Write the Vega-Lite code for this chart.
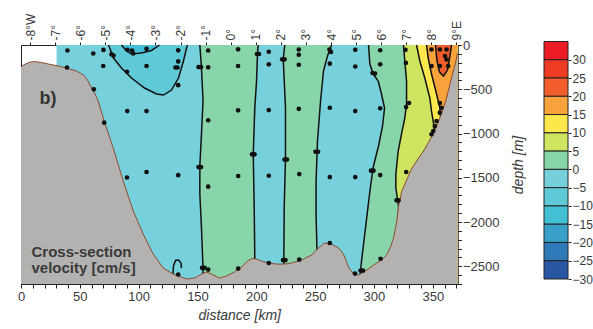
{
"$schema": "https://vega.github.io/schema/vega-lite/v6.json",
"background": "white",
"padding": {"left": 16, "top": 12, "right": 0, "bottom": 0},
"spacing": 86,
"bounds": "flush",
"config": {"font": "Liberation Sans", "view": {"stroke": "#222", "strokeWidth": 1},
  "axis": {"domainColor": "#222", "tickColor": "#222", "labelColor": "#3a3a3a", "titleColor": "#3a3a3a", "grid": false, "labelFontSize": 13, "titleFontSize": 14, "titleFontWeight": "normal", "labelOverlap": false, "labelFlush": false}},
"datasets": {
"cont": [
{"c":"cL","i":0,"d":30.2,"z":0},{"c":"cL","i":1,"d":30.2,"z":-2700},
{"c":"c0","i":0,"d":152.0,"z":0},{"c":"c0","i":1,"d":153.4,"z":-260},{"c":"c0","i":2,"d":154.7,"z":-633},{"c":"c0","i":3,"d":153.4,"z":-1006},{"c":"c0","i":4,"d":152.0,"z":-1367},{"c":"c0","i":5,"d":152.0,"z":-1684},{"c":"c0","i":6,"d":153.4,"z":-2068},{"c":"c0","i":7,"d":154.7,"z":-2520},{"c":"c0","i":8,"d":154.7,"z":-2700},
{"c":"c1","i":0,"d":201.6,"z":0},{"c":"c1","i":1,"d":201.0,"z":-102},{"c":"c1","i":2,"d":200.2,"z":-407},{"c":"c1","i":3,"d":198.7,"z":-712},{"c":"c1","i":4,"d":197.4,"z":-1232},{"c":"c1","i":5,"d":198.2,"z":-1842},{"c":"c1","i":6,"d":198.7,"z":-2407},{"c":"c1","i":7,"d":198.7,"z":-2700},
{"c":"c2","i":0,"d":224.2,"z":0},{"c":"c2","i":1,"d":222.9,"z":-158},{"c":"c2","i":2,"d":224.8,"z":-712},{"c":"c2","i":3,"d":224.8,"z":-1288},{"c":"c2","i":4,"d":223.7,"z":-1842},{"c":"c2","i":5,"d":223.4,"z":-2418},{"c":"c2","i":6,"d":223.4,"z":-2700},
{"c":"c3","i":0,"d":263.9,"z":0},{"c":"c3","i":1,"d":260.5,"z":-124},{"c":"c3","i":2,"d":257.1,"z":-294},{"c":"c3","i":3,"d":254.6,"z":-633},{"c":"c3","i":4,"d":252.0,"z":-1085},{"c":"c3","i":5,"d":250.8,"z":-1537},{"c":"c3","i":6,"d":250.8,"z":-1932},{"c":"c3","i":7,"d":251.6,"z":-2328},{"c":"c3","i":8,"d":251.6,"z":-2700},
{"c":"c4","i":0,"d":295.4,"z":0},{"c":"c4","i":1,"d":296.5,"z":-215},{"c":"c4","i":2,"d":299.4,"z":-328},{"c":"c4","i":3,"d":303.6,"z":-407},{"c":"c4","i":4,"d":306.4,"z":-554},{"c":"c4","i":5,"d":309.0,"z":-712},{"c":"c4","i":6,"d":307.3,"z":-915},{"c":"c4","i":7,"d":303.9,"z":-1141},{"c":"c4","i":8,"d":299.6,"z":-1367},{"c":"c4","i":9,"d":297.1,"z":-1593},{"c":"c4","i":10,"d":294.5,"z":-1876},{"c":"c4","i":11,"d":292.0,"z":-2158},{"c":"c4","i":12,"d":289.4,"z":-2441},{"c":"c4","i":13,"d":288.2,"z":-2610},{"c":"c4","i":14,"d":288.2,"z":-2700},
{"c":"c5","i":0,"d":325.1,"z":0},{"c":"c5","i":1,"d":326.2,"z":-181},{"c":"c5","i":2,"d":327.7,"z":-407},{"c":"c5","i":3,"d":327.7,"z":-667},{"c":"c5","i":4,"d":326.2,"z":-825},{"c":"c5","i":5,"d":323.4,"z":-1006},{"c":"c5","i":6,"d":320.6,"z":-1198},{"c":"c5","i":7,"d":318.6,"z":-1458},{"c":"c5","i":8,"d":318.6,"z":-1616},{"c":"c5","i":9,"d":320.9,"z":-1819},{"c":"c5","i":10,"d":320.9,"z":-2700},
{"c":"c6","i":0,"d":336.2,"z":0},{"c":"c6","i":1,"d":339.0,"z":-181},{"c":"c6","i":2,"d":343.2,"z":-373},{"c":"c6","i":3,"d":347.5,"z":-599},{"c":"c6","i":4,"d":348.9,"z":-746},{"c":"c6","i":5,"d":350.6,"z":-881},{"c":"c6","i":6,"d":351.5,"z":-972},{"c":"c6","i":7,"d":351.5,"z":-2700},
{"c":"c7","i":0,"d":344.7,"z":0},{"c":"c7","i":1,"d":346.1,"z":-147},{"c":"c7","i":2,"d":348.9,"z":-328},{"c":"c7","i":3,"d":353.2,"z":-554},{"c":"c7","i":4,"d":356.0,"z":-712},{"c":"c7","i":5,"d":356.6,"z":-814},{"c":"c7","i":6,"d":356.6,"z":-2700},
{"c":"c8","i":0,"d":352.3,"z":0},{"c":"c8","i":1,"d":353.6,"z":-181},{"c":"c8","i":2,"d":355.7,"z":-305},{"c":"c8","i":3,"d":359.1,"z":-350},{"c":"c8","i":4,"d":362.5,"z":-283},{"c":"c8","i":5,"d":364.6,"z":-124},{"c":"c8","i":6,"d":365.9,"z":0},
{"c":"c9","i":0,"d":74.4,"z":0},{"c":"c9","i":1,"d":78.6,"z":-147},{"c":"c9","i":2,"d":85.4,"z":-260},{"c":"c9","i":3,"d":93.9,"z":-373},{"c":"c9","i":4,"d":105.0,"z":-486},{"c":"c9","i":5,"d":115.2,"z":-554},{"c":"c9","i":6,"d":121.1,"z":-565},{"c":"c9","i":7,"d":127.9,"z":-509},{"c":"c9","i":8,"d":133.9,"z":-373},{"c":"c9","i":9,"d":138.1,"z":-181},{"c":"c9","i":10,"d":140.7,"z":-34},{"c":"c9","i":11,"d":141.5,"z":0},
{"c":"c10","i":0,"d":85.4,"z":0},{"c":"c10","i":1,"d":89.7,"z":-68},{"c":"c10","i":2,"d":93.9,"z":-102},{"c":"c10","i":3,"d":102.4,"z":-90},{"c":"c10","i":4,"d":110.9,"z":-62},{"c":"c10","i":5,"d":117.7,"z":0},
{"c":"c11","i":0,"d":129.2,"z":-2588},{"c":"c11","i":1,"d":129.6,"z":-2497},{"c":"c11","i":2,"d":131.3,"z":-2435},{"c":"c11","i":3,"d":133.9,"z":-2430},{"c":"c11","i":4,"d":136.0,"z":-2463},{"c":"c11","i":5,"d":136.4,"z":-2520}
],
"bathy": [
{"d":0,"z":-249},{"d":2.1,"z":-226},{"d":6.4,"z":-198},{"d":10.6,"z":-186},{"d":17.4,"z":-198},{"d":24.2,"z":-218},{"d":31.9,"z":-237},{"d":38.7,"z":-263},{"d":47.2,"z":-294},{"d":53.1,"z":-339},{"d":56.5,"z":-396},{"d":59.1,"z":-463},{"d":62.5,"z":-542},{"d":65.6,"z":-633},{"d":71.2,"z":-881},{"d":78.4,"z":-1164},{"d":86.9,"z":-1537},{"d":95.4,"z":-1876},{"d":103.9,"z":-2136},{"d":112.4,"z":-2362},{"d":120.9,"z":-2520},{"d":129.4,"z":-2588},{"d":140.7,"z":-2644},{"d":147.5,"z":-2633},{"d":153.4,"z":-2588},{"d":157.7,"z":-2565},{"d":161.9,"z":-2588},{"d":168.7,"z":-2633},{"d":174.7,"z":-2610},{"d":181.5,"z":-2565},{"d":187.4,"z":-2509},{"d":192.5,"z":-2441},{"d":195.9,"z":-2413},{"d":200.2,"z":-2418},{"d":204.4,"z":-2441},{"d":210.4,"z":-2463},{"d":217.2,"z":-2475},{"d":224.0,"z":-2475},{"d":229.9,"z":-2463},{"d":235.9,"z":-2441},{"d":241.0,"z":-2413},{"d":246.9,"z":-2373},{"d":252.9,"z":-2294},{"d":258.0,"z":-2237},{"d":263.9,"z":-2249},{"d":269.9,"z":-2294},{"d":274.1,"z":-2362},{"d":278.4,"z":-2509},{"d":282.6,"z":-2588},{"d":286.9,"z":-2599},{"d":291.1,"z":-2565},{"d":296.2,"z":-2520},{"d":302.2,"z":-2463},{"d":306.4,"z":-2430},{"d":310.7,"z":-2373},{"d":314.1,"z":-2283},{"d":316.6,"z":-2181},{"d":319.2,"z":-2011},{"d":320.9,"z":-1819},{"d":323.4,"z":-1661},{"d":327.7,"z":-1526},{"d":331.9,"z":-1401},{"d":337.9,"z":-1277},{"d":342.1,"z":-1198},{"d":345.5,"z":-1119},{"d":348.9,"z":-1040},{"d":352.3,"z":-949},{"d":355.7,"z":-836},{"d":358.7,"z":-723},{"d":361.7,"z":-599},{"d":364.2,"z":-463},{"d":366.8,"z":-328},{"d":369.3,"z":-203},{"d":371,"z":-90}
],
"dots": [
{"d":39.5,"z":-62},{"d":39.1,"z":-254},{"d":61.4,"z":-96},{"d":61.9,"z":-501},{"d":70.1,"z":-56},{"d":69.9,"z":-237},{"d":70.7,"z":-878},{"d":76.9,"z":-105},{"d":78.6,"z":-119},{"d":90.5,"z":-56},{"d":94.4,"z":-62},{"d":95.4,"z":-96},{"d":90.1,"z":-303},{"d":90.3,"z":-746},{"d":90.1,"z":-1497},{"d":106.7,"z":-43},{"d":106.7,"z":-237},{"d":106.7,"z":-746},{"d":106.7,"z":-1435},{"d":133.6,"z":-60},{"d":133.6,"z":-186},{"d":131.3,"z":-254},{"d":133.0,"z":-254},{"d":133.6,"z":-454},{"d":133.6,"z":-1471},{"d":133.6,"z":-2593},{"d":150.9,"z":-249},{"d":153.0,"z":-249},{"d":150.9,"z":-1379},{"d":153.0,"z":-1379},{"d":153.9,"z":-2517},{"d":156.0,"z":-2517},{"d":159.1,"z":-62},{"d":159.1,"z":-252},{"d":159.1,"z":-850},{"d":159.1,"z":-1601},{"d":159.1,"z":-2537},{"d":184.5,"z":-49},{"d":184.5,"z":-237},{"d":184.5,"z":-738},{"d":184.6,"z":-1480},{"d":184.6,"z":-2526},{"d":200.6,"z":-102},{"d":202.3,"z":-102},{"d":196.4,"z":-1235},{"d":198.5,"z":-1235},{"d":210.6,"z":-76},{"d":210.6,"z":-218},{"d":210.6,"z":-735},{"d":210.6,"z":-1477},{"d":210.6,"z":-2463},{"d":222.0,"z":-162},{"d":224.0,"z":-162},{"d":224.0,"z":-1294},{"d":226.1,"z":-1294},{"d":222.7,"z":-2430},{"d":224.8,"z":-2430},{"d":236.1,"z":-51},{"d":236.1,"z":-110},{"d":236.1,"z":-223},{"d":236.1,"z":-721},{"d":236.5,"z":-1458},{"d":236.5,"z":-2424},{"d":250.3,"z":-1206},{"d":252.5,"z":-1206},{"d":262.2,"z":-51},{"d":263.5,"z":-79},{"d":262.5,"z":-211},{"d":262.5,"z":-709},{"d":262.5,"z":-1492},{"d":262.5,"z":-2237},{"d":284.1,"z":-54},{"d":284.1,"z":-243},{"d":284.1,"z":-746},{"d":284.1,"z":-1492},{"d":283.9,"z":-2582},{"d":288.6,"z":-2548},{"d":290.7,"z":-2548},{"d":298.8,"z":-316},{"d":300.9,"z":-322},{"d":297.5,"z":-1420},{"d":299.6,"z":-1420},{"d":305.3,"z":-59},{"d":305.3,"z":-218},{"d":305.3,"z":-715},{"d":305.3,"z":-1469},{"d":305.6,"z":-2415},{"d":326.8,"z":-54},{"d":327.1,"z":-203},{"d":327.3,"z":-701},{"d":329.8,"z":-655},{"d":327.4,"z":-1435},{"d":319.2,"z":-1755},{"d":320.9,"z":-1755},{"d":348.9,"z":-51},{"d":356.0,"z":-51},{"d":361.7,"z":-51},{"d":360.4,"z":-124},{"d":361.7,"z":-164},{"d":348.9,"z":-237},{"d":356.0,"z":-237},{"d":363.1,"z":-237},{"d":356.0,"z":-655},{"d":357.4,"z":-709},{"d":356.0,"z":-765},{"d":353.2,"z":-859},{"d":351.7,"z":-915},{"d":350.4,"z":-972},{"d":348.9,"z":-1009}
],
"labels": [
{"t":"b)","k":"b","d":23,"z":-610},
{"t":"Cross-section","k":"c","d":8.9,"z":-2336},
{"t":"velocity [cm/s]","k":"c","d":8.9,"z":-2523}
],
"lon": [{"lon":-8},{"lon":9}],
"leg": [
{"lo":30,"hi":35,"band":"30+"},{"lo":25,"hi":30,"band":"25–30"},{"lo":20,"hi":25,"band":"20–25"},{"lo":15,"hi":20,"band":"15–20"},{"lo":10,"hi":15,"band":"10–15"},{"lo":5,"hi":10,"band":"5–10"},{"lo":0,"hi":5,"band":"0–5"},{"lo":-5,"hi":0,"band":"-5–0"},{"lo":-10,"hi":-5,"band":"-10–-5"},{"lo":-15,"hi":-10,"band":"-15–-10"},{"lo":-20,"hi":-15,"band":"-20–-15"},{"lo":-25,"hi":-20,"band":"-25–-20"},{"lo":-30,"hi":-25,"band":"-30–-25"}
]
},
"hconcat": [
{
"width": 436.5,
"height": 239,
"layer": [
{
"encoding": {
  "x": {"field": "d", "type": "quantitative", "scale": {"domain": [0, 371], "nice": false, "zero": false},
    "axis": {"orient": "bottom", "values": [0,10,20,30,40,50,60,70,80,90,100,110,120,130,140,150,160,170,180,190,200,210,220,230,240,250,260,270,280,290,300,310,320,330,340,350,360,370],
      "labelExpr": "datum.value % 50 == 0 ? datum.label : ''", "tickSize": 4, "labelPadding": 2, "title": "distance [km]", "titleFontStyle": "italic", "titlePadding": 5}},
  "y": {"field": "z", "type": "quantitative", "scale": {"domain": [-2700, 0], "nice": false, "zero": false},
    "axis": {"orient": "right", "values": [-2700,-2600,-2500,-2400,-2300,-2200,-2100,-2000,-1900,-1800,-1700,-1600,-1500,-1400,-1300,-1200,-1100,-1000,-900,-800,-700,-600,-500,-400,-300,-200,-100,0],
      "format": "d", "labelExpr": "datum.value % 500 == 0 ? datum.label : ''", "tickSize": 4, "labelPadding": 1, "title": "depth [m]", "titleFontStyle": "italic", "titleAngle": 270, "titleBaseline": "top", "titlePadding": 12}}
},
"layer": [
{"data": {"name": "cont"}, "transform": [{"filter": "datum.c == 'cL'"}], "mark": {"type": "area", "orient": "horizontal", "color": "#76d1dc"}, "encoding": {"x2": {"datum": 371}}},
{"data": {"name": "cont"}, "transform": [{"filter": "datum.c == 'c0'"}], "mark": {"type": "area", "orient": "horizontal", "color": "#88d5ab"}, "encoding": {"x2": {"datum": 371}}},
{"data": {"name": "cont"}, "transform": [{"filter": "datum.c == 'c1'"}], "mark": {"type": "area", "orient": "horizontal", "color": "#76d1dc"}, "encoding": {"x2": {"datum": 371}}},
{"data": {"name": "cont"}, "transform": [{"filter": "datum.c == 'c2'"}], "mark": {"type": "area", "orient": "horizontal", "color": "#88d5ab"}, "encoding": {"x2": {"datum": 371}}},
{"data": {"name": "cont"}, "transform": [{"filter": "datum.c == 'c3'"}], "mark": {"type": "area", "orient": "horizontal", "color": "#76d1dc"}, "encoding": {"x2": {"datum": 371}}},
{"data": {"name": "cont"}, "transform": [{"filter": "datum.c == 'c4'"}], "mark": {"type": "area", "orient": "horizontal", "color": "#88d5ab"}, "encoding": {"x2": {"datum": 371}}},
{"data": {"name": "cont"}, "transform": [{"filter": "datum.c == 'c5'"}], "mark": {"type": "area", "orient": "horizontal", "color": "#cfe461"}, "encoding": {"x2": {"datum": 371}}},
{"data": {"name": "cont"}, "transform": [{"filter": "datum.c == 'c6'"}], "mark": {"type": "area", "orient": "horizontal", "color": "#fce84d"}, "encoding": {"x2": {"datum": 371}}},
{"data": {"name": "cont"}, "transform": [{"filter": "datum.c == 'c7'"}], "mark": {"type": "area", "orient": "horizontal", "color": "#f8a23b"}, "encoding": {"x2": {"datum": 371}}},
{"data": {"name": "cont"}, "transform": [{"filter": "datum.c == 'c9'"}], "mark": {"type": "area", "orient": "vertical", "color": "#5fc9d8"}, "encoding": {"y2": {"datum": 0}}},
{"data": {"name": "cont"}, "transform": [{"filter": "datum.c == 'c10'"}], "mark": {"type": "area", "orient": "vertical", "color": "#43bfd6"}, "encoding": {"y2": {"datum": 0}}},
{"data": {"name": "cont"}, "transform": [{"filter": "datum.c == 'c8'"}], "mark": {"type": "area", "orient": "vertical", "color": "#f15d2b"}, "encoding": {"y2": {"datum": 0}}},
{"data": {"name": "cont"}, "transform": [{"filter": "datum.c != 'cL'"}], "mark": {"type": "line", "color": "#111", "strokeWidth": 1.5}, "encoding": {"detail": {"field": "c"}, "order": {"field": "i", "type": "quantitative"}}},
{"data": {"name": "bathy"}, "mark": {"type": "area", "orient": "vertical", "color": "#b3b2b1"}, "encoding": {"y2": {"datum": -2700}}},
{"data": {"name": "bathy"}, "mark": {"type": "line", "color": "#8f4a2a", "strokeWidth": 1}, "encoding": {}},
{"data": {"name": "dots"}, "mark": {"type": "point", "filled": true, "size": 22, "color": "#111", "opacity": 1}, "encoding": {}},
{"data": {"name": "labels"}, "transform": [{"filter": "datum.k == 'b'"}], "mark": {"type": "text", "fontSize": 18, "fontWeight": "bold", "color": "#333", "align": "center", "baseline": "middle"}, "encoding": {"text": {"field": "t"}}},
{"data": {"name": "labels"}, "transform": [{"filter": "datum.k == 'c'"}], "mark": {"type": "text", "fontSize": 15, "fontWeight": "bold", "color": "#3a3a3a", "align": "left", "baseline": "middle"}, "encoding": {"text": {"field": "t"}}}
]
},
{
"data": {"name": "lon"},
"mark": {"type": "point", "opacity": 0},
"encoding": {"x": {"field": "lon", "type": "quantitative", "scale": {"domain": [-8.36, 9.04], "nice": false, "zero": false},
  "axis": {"orient": "top", "values": [-8,-7,-6,-5,-4,-3,-2,-1,0,1,2,3,4,5,6,7,8,9], "labelExpr": "datum.value == -8 ? '-8°W' : (datum.value == 9 ? '9°E' : datum.value + '°')", "labelAngle": 270, "labelFontSize": 12, "tickSize": 3, "labelPadding": 2, "title": null}}}
}
],
"resolve": {"scale": {"x": "independent"}}
},
{
"width": 24,
"height": 240,
"view": {"stroke": null},
"data": {"name": "leg"},
"mark": {"type": "rect", "stroke": "#222", "strokeWidth": 1},
"encoding": {
  "y": {"field": "lo", "type": "quantitative", "scale": {"domain": [-31.64, 34.04], "nice": false, "zero": false},
    "axis": {"orient": "right", "values": [-30,-25,-20,-15,-10,-5,0,5,10,15,20,25,30], "format": "d", "domain": false, "tickSize": 3, "labelPadding": 1, "labelFontSize": 12, "title": null}},
  "y2": {"field": "hi"},
  "color": {"field": "band", "type": "nominal", "legend": null,
    "scale": {"domain": ["30+","25–30","20–25","15–20","10–15","5–10","0–5","-5–0","-10–-5","-15–-10","-20–-15","-25–-20","-30–-25"],
      "range": ["#ec1c24","#ef3a24","#f25e2b","#f8a23b","#fde84c","#d0e460","#89d5ab","#76d0dc","#60c9d8","#43bfd6","#38a0c9","#2e79b8","#2956a2"]}}
}
}
]
}
